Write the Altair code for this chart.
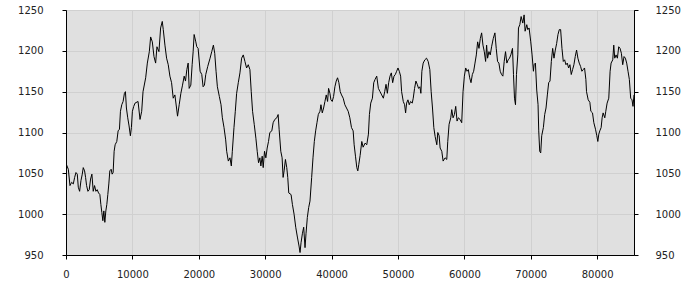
import altair as alt
import pandas as pd

xs = [0, 350, 600, 850, 1100, 1300, 1500, 1700, 1850, 2050, 2250, 2450, 2600, 2800, 2950, 3100, 3300, 3500, 3700, 3900,
      4100, 4300, 4500, 4700, 4900, 5100, 5250, 5400, 5550, 5700, 5850, 6000, 6150, 6300, 6450, 6600, 6800, 6950, 7100, 7250,
      7400, 7650, 7850, 8050, 8200, 8400, 8600, 8800, 8950, 9100, 9300, 9500, 9700, 9850, 10000, 10200, 10400, 10850, 11150, 11400,
      11600, 12000, 12250, 12550, 12750, 13000, 13250, 13500, 13700, 14000, 14250, 14500, 14650, 14900, 15150, 15400, 15650, 15900, 16150, 16400,
      16650, 16800, 17050, 17300, 17550, 17800, 18000, 18200, 18400, 18550, 18800, 19000, 19150, 19300, 19550, 19700, 19900, 20200, 20450, 20650,
      20850, 21050, 21350, 21700, 21950, 22200, 22400, 22600, 22800, 23100, 23350, 23550, 23800, 24050, 24200, 24450, 24700, 24900, 25050, 25300,
      25500, 25700, 25950, 26200, 26450, 26700, 26950, 27200, 27450, 27700, 27900, 28100, 28350, 28600, 28800, 29000, 29200, 29350, 29550, 29700,
      29900, 30100, 30300, 30500, 30700, 31000, 31200, 31450, 31750, 31950, 32100, 32350, 32550, 32700, 32850, 33050, 33250, 33400, 33550, 33900,
      34100, 34350, 34600, 34850, 35100, 35250, 35400, 35600, 35800, 36000, 36150, 36350, 36550, 36750, 37000, 37200, 37400, 37600, 37800, 38000,
      38250, 38400, 38600, 38800, 39000, 39200, 39400, 39550, 39750, 39900, 40100, 40300, 40500, 40700, 40900, 41100, 41300, 41500, 41750, 42000,
      42250, 42500, 42750, 43000, 43250, 43400, 43600, 43800, 43950, 44100, 44300, 44550, 44750, 45050, 45300, 45550, 45700, 45900, 46150, 46350,
      46550, 46800, 47050, 47300, 47550, 47800, 48000, 48200, 48400, 48600, 48800, 49000, 49200, 49400, 49600, 49800, 50000, 50200, 50400, 50550,
      50800, 51000, 51150, 51300, 51500, 51700, 51900, 52150, 52300, 52500, 52700, 52900, 53100, 53300, 53450, 53600, 53800, 54050, 54300, 54550,
      54800, 55000, 55200, 55400, 55600, 55850, 56000, 56200, 56350, 56600, 56800, 57100, 57350, 57500, 57700, 57950, 58100, 58300, 58500, 58700,
      58900, 59100, 59350, 59600, 59800, 60000, 60200, 60400, 60600, 60800, 61000, 61200, 61400, 61600, 61800, 62000, 62200, 62400, 62600, 62800,
      63000, 63200, 63350, 63500, 63700, 63900, 64100, 64350, 64600, 64800, 65000, 65200, 65400, 65600, 65800, 66000, 66200, 66400, 66600, 66800,
      67000, 67250, 67400, 67550, 67700, 67850, 68050, 68150, 68350, 68550, 68800, 69000, 69150, 69400, 69550, 69750, 70000, 70200, 70400, 70500,
      70700, 70900, 71100, 71200, 71350, 71500, 71650, 71900, 72100, 72300, 72500, 72700, 72900, 73100, 73300, 73500, 73700, 73900, 74100, 74300,
      74500, 74700, 74900, 75100, 75300, 75500, 75700, 75900, 76100, 76300, 76500, 76700, 76900, 77100, 77300, 77500, 77700, 77900, 78100, 78300,
      78400, 78650, 78900, 79050, 79300, 79500, 79750, 79950, 80100, 80250, 80400, 80600, 80750, 80900, 81150, 81300, 81500, 81750, 81950, 82100,
      82350, 82500, 82650, 82850, 83050, 83250, 83450, 83650, 83850, 84050, 84250, 84450, 84650, 84850, 85050, 85250, 85400, 85550]

ys = [1062, 1055, 1035, 1039, 1037, 1045, 1051, 1049, 1033, 1028, 1041, 1049, 1057, 1053, 1045, 1035, 1028, 1030, 1043, 1049,
      1028, 1035, 1028, 1030, 1026, 1024, 1012, 1002, 992, 1004, 990, 1004, 1012, 1024, 1037, 1053, 1055, 1049, 1051, 1077,
      1085, 1089, 1102, 1104, 1126, 1134, 1138, 1148, 1150, 1130, 1118, 1108, 1096, 1106, 1126, 1132, 1136, 1138, 1116, 1126,
      1150, 1167, 1185, 1199, 1217, 1211, 1193, 1185, 1205, 1199, 1228, 1236, 1226, 1207, 1191, 1183, 1169, 1161, 1142, 1146,
      1130, 1120, 1134, 1148, 1158, 1169, 1163, 1177, 1185, 1154, 1158, 1183, 1199, 1220, 1211, 1205, 1203, 1175, 1171, 1156,
      1158, 1171, 1181, 1191, 1199, 1207, 1197, 1175, 1156, 1144, 1134, 1118, 1106, 1091, 1077, 1065, 1069, 1059, 1077, 1106,
      1126, 1148, 1161, 1173, 1191, 1195, 1187, 1179, 1183, 1177, 1150, 1126, 1110, 1093, 1077, 1063, 1069, 1059, 1071, 1057,
      1077, 1069, 1081, 1089, 1100, 1102, 1112, 1116, 1118, 1122, 1104, 1077, 1069, 1045, 1053, 1067, 1057, 1045, 1026, 1024,
      1012, 1000, 984, 972, 961, 953, 965, 976, 984, 959, 976, 996, 1008, 1016, 1045, 1069, 1089, 1102, 1112, 1122,
      1126, 1134, 1124, 1130, 1138, 1146, 1138, 1154, 1148, 1140, 1138, 1144, 1156, 1163, 1167, 1161, 1150, 1146, 1142, 1134,
      1130, 1126, 1118, 1106, 1102, 1085, 1071, 1057, 1053, 1061, 1072, 1089, 1082, 1087, 1085, 1098, 1122, 1136, 1142, 1161,
      1165, 1169, 1154, 1150, 1146, 1142, 1150, 1159, 1148, 1161, 1169, 1173, 1161, 1169, 1171, 1175, 1179, 1175, 1169, 1150,
      1138, 1134, 1124, 1136, 1140, 1134, 1138, 1136, 1142, 1154, 1163, 1159, 1154, 1156, 1148, 1175, 1185, 1189, 1191, 1187,
      1177, 1150, 1130, 1106, 1095, 1085, 1100, 1096, 1081, 1077, 1065, 1069, 1067, 1089, 1110, 1118, 1128, 1118, 1122, 1132,
      1114, 1118, 1116, 1112, 1150, 1169, 1179, 1175, 1177, 1167, 1161, 1171, 1175, 1185, 1195, 1211, 1203, 1215, 1222, 1207,
      1199, 1187, 1207, 1191, 1199, 1195, 1205, 1215, 1222, 1203, 1187, 1185, 1175, 1171, 1169, 1187, 1199, 1185, 1189, 1191,
      1195, 1203, 1171, 1142, 1134, 1171, 1195, 1228, 1232, 1242, 1234, 1244, 1224, 1232, 1226, 1228, 1211, 1195, 1175, 1183,
      1185, 1152, 1134, 1102, 1077, 1075, 1096, 1106, 1122, 1130, 1146, 1161, 1163, 1187, 1203, 1191, 1201, 1209, 1220, 1226,
      1226, 1203, 1187, 1189, 1183, 1185, 1179, 1183, 1171, 1177, 1183, 1193, 1201, 1191, 1185, 1181, 1175, 1177, 1179, 1165,
      1150, 1140, 1137, 1126, 1124, 1112, 1104, 1096, 1089, 1098, 1102, 1106, 1118, 1124, 1118, 1126, 1136, 1142, 1175, 1185,
      1189, 1207, 1191, 1195, 1191, 1205, 1203, 1197, 1183, 1193, 1191, 1185, 1175, 1165, 1142, 1140, 1132, 1146]

x_ticks = [0, 10000, 20000, 30000, 40000, 50000, 60000, 70000, 80000]
y_ticks = [950, 1000, 1050, 1100, 1150, 1200, 1250]

df = pd.DataFrame({"x": xs, "y": ys})

xscale = alt.Scale(domain=[0, 85550], nice=False, zero=False)
yscale = alt.Scale(domain=[950, 1250], nice=False, zero=False)

x_axis = alt.Axis(values=x_ticks, title=None, grid=True, gridColor="#d0d0d0",
                  labelPadding=10, tickSize=4, format="d", orient="bottom",
                  labelFlush=False, labelOverlap=False)

base = alt.Chart(df)

line = base.mark_line(color="black", strokeWidth=1, clip=True).encode(
    x=alt.X("x:Q", scale=xscale, axis=x_axis),
    y=alt.Y("y:Q", scale=yscale,
            axis=alt.Axis(values=y_ticks, title=None, grid=True, gridColor="#d0d0d0",
                          orient="left", labelPadding=19, tickSize=4, format="d",
                          labelFlush=False, labelOverlap=False)),
)

right = base.mark_line(strokeOpacity=0).encode(
    x=alt.X("x:Q", scale=xscale, axis=x_axis),
    y=alt.Y("y:Q", scale=yscale,
            axis=alt.Axis(values=y_ticks, title=None, grid=False, orient="right",
                          labelPadding=17, tickSize=4, format="d",
                          labelFlush=False, labelOverlap=False)),
)

chart = alt.layer(line, right).resolve_axis(y="independent").properties(
    width=568, height=245,
    autosize="none",
    padding={"left": 66, "top": 10, "right": 66, "bottom": 45},
    background="white",
).configure_view(
    fill="#e0e0e0", stroke="black", strokeWidth=1
).configure_axis(
    domainColor="black", tickColor="black", labelColor="#222222",
    labelFont="DejaVu Sans", labelFontSize=10, domainWidth=1, tickWidth=1,
)

chart.save("out.html", embed_options={"renderer": "svg", "actions": False})
